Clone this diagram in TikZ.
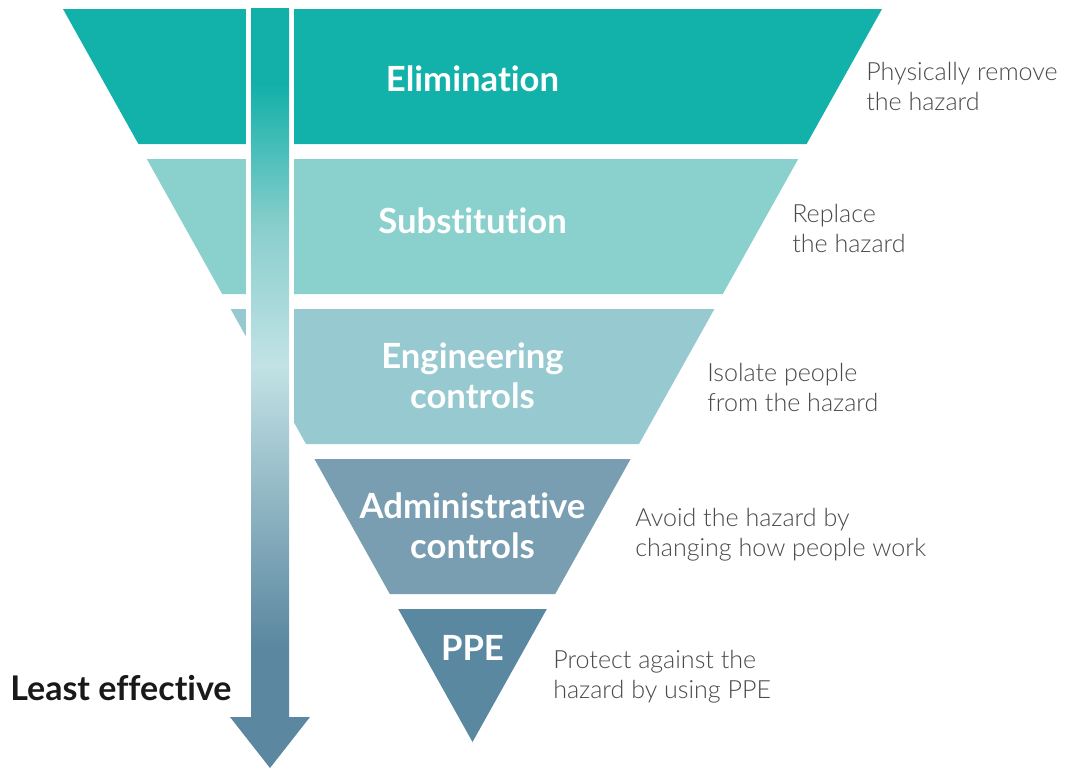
\documentclass[tikz,border=0pt]{standalone}
\usepackage{fontspec}
\setmainfont{Lato}[Ligatures=NoCommon]
\newfontfamily\lightfont{Lato Light}[Ligatures=NoCommon]
\usepackage{xcolor}
\usetikzlibrary{positioning}
\definecolor{elimcol}{HTML}{12B1AA}
\definecolor{substcol}{HTML}{8AD0CD}
\definecolor{engincol}{HTML}{97CAD0}
\definecolor{admincol}{HTML}{7A9EB1}
\definecolor{ppecol}{HTML}{5B88A1}
\definecolor{notegray}{HTML}{4A4A4A}
\definecolor{arrteal}{HTML}{12B0A9}
\definecolor{arrsoft}{HTML}{88CECC}
\definecolor{arrlight}{HTML}{C2E2E5}
\definecolor{arrdark}{HTML}{5B87A0}
\pgfdeclareverticalshading{effshade}{100bp}{color(0bp)=(arrdark); color(33bp)=(arrdark); color(51.5bp)=(arrlight); color(60.7bp)=(arrsoft); color(70bp)=(arrteal); color(100bp)=(arrteal)}
\tikzset{
    levelname/.style={text=white,font=\fontsize{26}{30}\selectfont\bfseries,align=center,inner sep=0pt},
    levelnote/.style={text=notegray,font=\lightfont\fontsize{18.8}{22.5}\selectfont,align=left,anchor=west,inner sep=0pt},
    effarrow/.style={shading=effshade,draw=none}
}

\begin{document}
\begin{tikzpicture}[x=0.75pt,y=-0.75pt]
  \useasboundingbox[fill=white] (0,0) rectangle (1070,769);
  % the five levels
  \fill[elimcol] (63,9) -- (882,9) -- (806.6,144) -- (138.4,144) -- cycle;
  \fill[substcol] (146.8,159) -- (798.2,159) -- (722.8,294) -- (222.2,294) -- cycle;
  \fill[engincol] (230.6,309) -- (714.4,309) -- (639,444) -- (306,444) -- cycle;
  \fill[admincol] (314.4,459) -- (630.6,459) -- (555.2,594) -- (389.8,594) -- cycle;
  \fill[ppecol] (398.2,609) -- (546.8,609) -- (472.5,742) -- cycle;
  % gap for the arrow
  \fill[white] (246,0) rectangle (294,450);
  \shade[effarrow] (251,8) -- (289,8) -- (289,717) -- (310,717) -- (270,768)
    -- (230,717) -- (251,717) -- cycle;

  \node[levelname] (elim) at (472.5,79) {Elimination};
  \node[levelname] (subst) at (472.5,221) {Substitution};
  \node[levelname] (engin) at (472.5,376) {Engineering\\controls};
  \node[levelname] (admin) at (472.5,526) {Administrative\\controls};
  \node[levelname] (ppe) at (472.5,648) {PPE};

  \node[levelnote] (elimnote) at (866,86) {Physically remove\\the hazard};
  \node[levelnote] (substnote) at (792,228) {Replace\\the hazard};
  \node[levelnote] (enginnote) at (707,387) {Isolate people\\from the hazard};
  \node[levelnote] (adminnote) at (635,535) {Avoid the hazard by\\changing how people work};
  \node[levelnote] (ppenote) at (553,677) {Protect against the\\hazard by using PPE};

  \node[anchor=west,inner sep=0pt,text={black!90},font=\fontsize{25.5}{28}\selectfont\bfseries] (least) at (10,688) {Least effective};
\end{tikzpicture}
\end{document}
